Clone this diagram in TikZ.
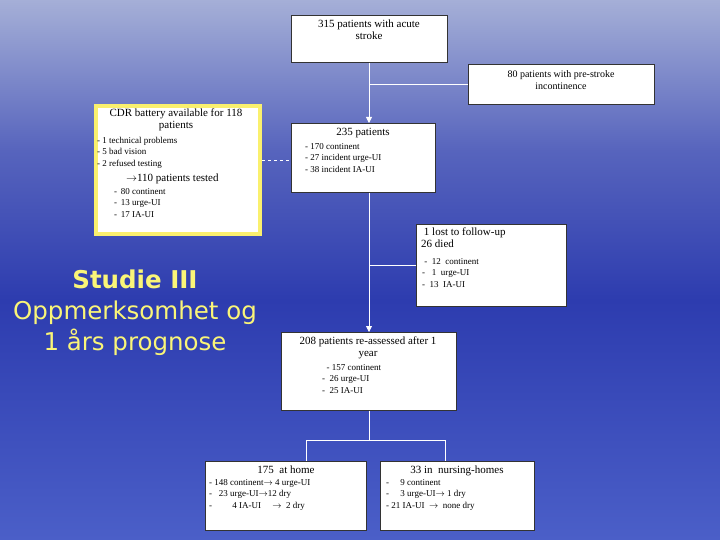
\documentclass[tikz,border=0pt]{standalone}
\usepackage{fontspec}
\setmainfont{Liberation Serif}
\newfontfamily\titlefont{DejaVu Sans}
\usetikzlibrary{arrows.meta}
\definecolor{bgtop}{RGB}{165,175,215}
\definecolor{bgmid}{RGB}{45,60,175}
\definecolor{bgbot}{RGB}{75,95,200}
\definecolor{ttl}{RGB}{250,245,120}
\definecolor{cdr}{RGB}{250,240,110}
\tikzset{
 box/.style={draw=black!80,fill=white,line width=0.6pt},
 lbl/.style={inner sep=0pt,font=\fontsize{11}{12}\selectfont,align=center},
 lst/.style={inner sep=0pt,font=\fontsize{9}{11.5}\selectfont,align=left,anchor=north west},
 conn/.style={draw=white,line width=0.8pt},
 arr/.style={conn,-{Triangle[width=6pt,length=6pt]}}
}
\begin{document}
\begin{tikzpicture}[x=1pt,y=-1pt]
\useasboundingbox (0,0) rectangle (720,540);
\shade[top color=bgtop,bottom color=bgmid,middle color=bgmid!65!bgtop] (0,0) rectangle (720,300);
\shade[top color=bgmid,bottom color=bgbot] (0,300) rectangle (720,540);
\coordinate (j1) at (369,84);
\coordinate (j2) at (369,265);
\coordinate (j3) at (369,440);
\coordinate (jl) at (306,440);
\coordinate (jr) at (445,440);
\node[box,minimum width=156,minimum height=47,anchor=north west] (top) at (291,15) {};
\node[lbl,anchor=north] at (369,20) {315 patients with acute\\stroke};
\node[box,minimum width=186,minimum height=40,anchor=north west] (pre) at (468,64) {};
\node[lbl,anchor=north,font=\fontsize{10}{12}\selectfont] at (561,70) {80 patients with pre-stroke\\incontinence};
\node[box,draw=cdr,line width=4pt,minimum width=164,minimum height=128,anchor=north west] (cdr) at (94,104) {};
\node[lbl,anchor=north] at (176,109) {CDR battery available for 118\\patients};
\node[lst] at (97,137) {- 1 technical problems\\- 5 bad vision\\- 2 refused testing};
\node[lbl,anchor=north west] at (126,174) {$\rightarrow$110 patients tested};
\node[lst] at (114,188) {- \,80 continent\\- \,13 urge-UI\\- \,17 IA-UI};
\node[box,minimum width=144,minimum height=69,anchor=north west] (p235) at (291,123) {};
\node[lbl,anchor=north] at (363,128) {235 patients};
\node[lst] at (305,143) {- 170 continent\\- 27 incident urge-UI\\- 38 incident IA-UI};
\node[box,minimum width=150,minimum height=82,anchor=north west] (lost) at (416,224) {};
\node[lbl,anchor=north west,align=left] at (421,228) {\ 1 lost to follow-up\\26 died};
\node[lst] at (422,258) {\ - \ 12 \ continent\\ - \ \ 1 \ urge-UI\\ - \ 13 \ IA-UI};
\node[box,minimum width=175,minimum height=78,anchor=north west] (p208) at (281,332) {};
\node[lbl,anchor=north] at (368,337) {208 patients re-assessed after 1\\year};
\node[lst] at (322,364) {\ \ - 157 continent\\- \ 26 urge-UI\\- \ 25 IA-UI};
\node[box,minimum width=161,minimum height=69,anchor=north west] (home) at (205,461) {};
\node[lbl,anchor=north] at (286,466) {175 \ at home};
\node[lst] at (209,479) {- 148 continent$\rightarrow$ 4 urge-UI\\- \ \ 23 urge-UI$\rightarrow$12 dry\\- \qquad 4 IA-UI \quad $\rightarrow$ \ 2 dry};
\node[box,minimum width=154,minimum height=69,anchor=north west] (nurse) at (380,461) {};
\node[lbl,anchor=north] at (457,466) {33 in \ nursing-homes};
\node[lst] at (386,479) {- \quad 9 continent\\- \quad 3 urge-UI$\rightarrow$ 1 dry\\- 21 IA-UI \ $\rightarrow$ \ none dry};
\draw[arr] (top.south -| j1) -- (p235.north -| j1);
\draw[conn] (j1) -- (pre.west |- j1);
\draw[conn,dashed] (cdr.east |- 0,160) -- (p235.west |- 0,160);
\draw[arr] (p235.south -| j2) -- (p208.north -| j2);
\draw[conn] (j2) -- (lost.west |- j2);
\draw[conn] (p208.south -| j3) -- (j3);
\draw[conn] (jl |- home.north) -- (jl) -- (jr) -- (jr |- nurse.north);
\node[font=\titlefont\fontsize{24.5}{31}\selectfont,text=ttl,align=center] (title) at (135,313) {\textbf{Studie III}\\Oppmerksomhet og\\1 års prognose};
\end{tikzpicture}
\end{document}
